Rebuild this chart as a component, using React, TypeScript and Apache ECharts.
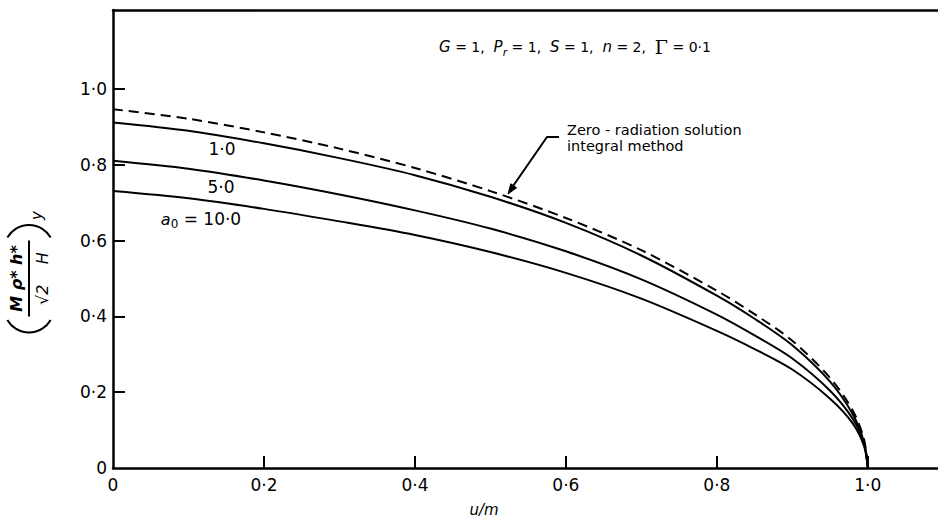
import React, { useEffect, useRef } from "react";
import * as echarts from "echarts";

const xValues = [0, 0.1, 0.2, 0.3, 0.4, 0.5, 0.6, 0.7, 0.8, 0.85, 0.9, 0.95, 0.98, 0.995, 1.0];
const zeroRadiation = [0.947, 0.922, 0.886, 0.843, 0.792, 0.731, 0.66, 0.575, 0.468, 0.406, 0.336, 0.238, 0.152, 0.076, 0];
const a0_1 = [0.912, 0.89, 0.857, 0.818, 0.773, 0.716, 0.647, 0.561, 0.455, 0.394, 0.324, 0.228, 0.142, 0.068, 0];
const a0_5 = [0.811, 0.79, 0.759, 0.722, 0.68, 0.632, 0.572, 0.498, 0.405, 0.35, 0.289, 0.204, 0.13, 0.065, 0];
const a0_10 = [0.731, 0.712, 0.684, 0.651, 0.615, 0.57, 0.515, 0.447, 0.362, 0.314, 0.26, 0.183, 0.118, 0.058, 0];

const xTicks = [0, 0.2, 0.4, 0.6, 0.8, 1.0];
const yTicks = [0, 0.2, 0.4, 0.6, 0.8, 1.0];

const FONT = "DejaVu Sans";

function fmt(v: number): string {
  if (Math.abs(v) < 1e-9) return "0";
  return v.toFixed(1).replace(".", "·");
}

function pairs(ys: number[]) {
  return xValues.map((x, i) => [x, ys[i]]);
}

export default function App() {
  const ref = useRef<HTMLDivElement>(null);
  useEffect(() => {
    if (!ref.current) return;
    const chart = echarts.init(ref.current, null, { renderer: "svg" });
    const lineSeries = (name: string, ys: number[], dashed = false) => ({
      name,
      type: "line",
      data: pairs(ys),
      showSymbol: false,
      smooth: 0.3,
      lineStyle: dashed ? { color: "#000", width: 2, type: [10, 6] } : { color: "#000", width: 2 },
      itemStyle: { color: "#000" },
      z: 3,
    });
    chart.setOption({
      animation: false,
      backgroundColor: "#fff",
      grid: { left: 113, right: 0, top: 10, bottom: 53, outerBoundsMode: "none" },
      xAxis: [
        {
          type: "value",
          min: 0,
          max: 1.093,
          interval: 0.2,
          splitLine: { show: false },
          axisLine: { lineStyle: { color: "#000", width: 2.5 } },
          axisTick: { inside: true, length: 12, lineStyle: { color: "#000", width: 2 }, customValues: xTicks.slice(1) },
          axisLabel: {
            customValues: xTicks,
            formatter: (v: number) => fmt(v),
            color: "#000",
            fontSize: 17,
            fontFamily: FONT,
            margin: 8,
          },
        },
        {
          type: "value",
          position: "top",
          min: 0,
          max: 1.093,
          axisLine: { show: true, lineStyle: { color: "#000", width: 2.5 } },
          axisTick: { show: false },
          axisLabel: { show: false },
          splitLine: { show: false },
        },
      ],
      yAxis: {
        type: "value",
        min: 0,
        max: 1.209,
        interval: 0.2,
        splitLine: { show: false },
        axisLine: { lineStyle: { color: "#000", width: 2.5 } },
        axisTick: { inside: true, length: 12, lineStyle: { color: "#000", width: 2 }, customValues: yTicks.slice(1) },
        axisLabel: {
          customValues: yTicks,
          formatter: (v: number) => fmt(v),
          color: "#000",
          fontSize: 17,
          fontFamily: FONT,
          margin: 6,
        },
      },
      series: [
        lineSeries("Zero-radiation solution, integral method", zeroRadiation, true),
        lineSeries("a0 = 1.0", a0_1),
        lineSeries("a0 = 5.0", a0_5),
        lineSeries("a0 = 10.0", a0_10),
      ],
      graphic: [
        {
          type: "text",
          x: 575,
          y: 47,
          style: {
            text: "{i|G}{n| = 1,  }{i|P}{s|r}{n| = 1,  }{i|S}{n| = 1,  }{i|n}{n| = 2,  }{g|Γ}{n| = 0·1}",
            fill: "#000",
            font: `14px "${FONT}"`,
            align: "center",
            verticalAlign: "middle",
            rich: {
              i: { fontStyle: "italic", fontSize: 15, fontFamily: FONT },
              n: { fontSize: 14, fontFamily: FONT },
              s: { fontStyle: "italic", fontSize: 11, fontFamily: FONT, padding: [10, 0, 0, 0] },
              g: { fontSize: 19, fontFamily: "DejaVu Serif" },
            },
          },
        },
        {
          type: "text",
          x: 222,
          y: 149,
          style: { text: "1·0", fill: "#000", font: `17px "${FONT}"`, align: "center", verticalAlign: "middle" },
        },
        {
          type: "text",
          x: 221,
          y: 187,
          style: { text: "5·0", fill: "#000", font: `17px "${FONT}"`, align: "center", verticalAlign: "middle" },
        },
        {
          type: "text",
          x: 201,
          y: 219,
          style: {
            text: "{i|a}{s|0}{n| = 10·0}",
            fill: "#000",
            font: `17px "${FONT}"`,
            align: "center",
            verticalAlign: "middle",
            rich: {
              i: { fontStyle: "italic", fontSize: 16, fontFamily: FONT },
              n: { fontSize: 17, fontFamily: FONT },
              s: { fontSize: 12, fontFamily: FONT, padding: [10, 0, 0, 0] },
            },
          },
        },
        {
          type: "text",
          x: 567,
          y: 122,
          style: {
            text: "Zero - radiation solution\nintegral method",
            fill: "#000",
            font: `14.5px "${FONT}"`,
            lineHeight: 16,
            align: "left",
            verticalAlign: "top",
          },
        },
        {
          type: "polyline",
          shape: { points: [[559, 137], [547, 137], [511, 189]] },
          style: { stroke: "#000", lineWidth: 2, fill: null },
        },
        {
          type: "polygon",
          shape: { points: [[508, 194], [516.6, 187.8], [510.8, 183.8]] },
          style: { fill: "#000", stroke: "#000", lineWidth: 1 },
        },
        {
          type: "text",
          x: 484,
          y: 510,
          style: { text: "u/m", fill: "#000", font: `italic 15px "${FONT}"`, align: "center", verticalAlign: "middle" },
        },
        {
          type: "group",
          x: 29,
          y: 278.5,
          rotation: Math.PI / 2,
          children: [
            {
              type: "text",
              x: 0,
              y: -13,
              style: { text: "M ρ* h*", fill: "#000", font: `italic bold 16px "${FONT}"`, align: "center", verticalAlign: "middle" },
            },
            {
              type: "line",
              shape: { x1: -38, y1: 0, x2: 38, y2: 0 },
              style: { stroke: "#000", lineWidth: 2 },
            },
            {
              type: "text",
              x: 0,
              y: 13,
              style: { text: "√2    H", fill: "#000", font: `italic 16px "${FONT}"`, align: "center", verticalAlign: "middle" },
            },
            {
              type: "arc",
              shape: { cx: -29, cy: 0, r: 25, startAngle: (2 * Math.PI) / 3, endAngle: (4 * Math.PI) / 3, clockwise: true },
              style: { stroke: "#000", lineWidth: 2, fill: null },
            },
            {
              type: "arc",
              shape: { cx: 28.5, cy: 0, r: 25, startAngle: -Math.PI / 3, endAngle: Math.PI / 3, clockwise: true },
              style: { stroke: "#000", lineWidth: 2, fill: null },
            },
            {
              type: "text",
              x: 63,
              y: 8,
              style: { text: "y", fill: "#000", font: `italic 15px "${FONT}"`, align: "center", verticalAlign: "middle" },
            },
          ],
        },
      ],
    });
    return () => chart.dispose();
  }, []);
  return (
    <div
      ref={ref}
      style={{ position: "fixed", left: 0, top: 0, width: 938, height: 521, background: "#fff" }}
    />
  );
}
